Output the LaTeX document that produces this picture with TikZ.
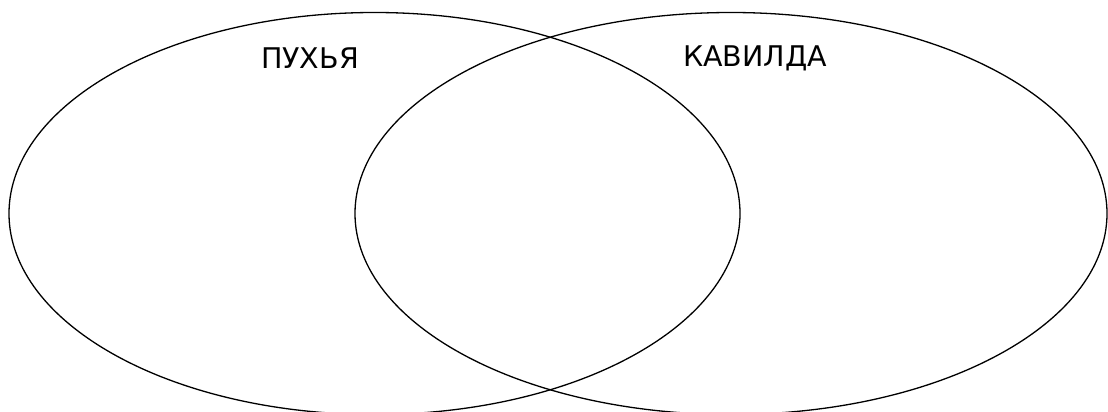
\documentclass[tikz,border=0pt]{standalone}
\usepackage{fontspec}
\setmainfont{DejaVu Sans}
\tikzset{
  setline/.style={draw, line width=1.3pt},
  setlabel/.style={font=\fontsize{28.5}{34}\selectfont, inner sep=0pt}
}
\begin{document}
\begin{tikzpicture}[x=1pt, y=-1pt]
  \useasboundingbox (0,0) rectangle (1108,412);
  \draw[setline] (374.5,213.5) ellipse [x radius=365.5, y radius=201];
  \draw[setline] (731,213.5) ellipse [x radius=376, y radius=201];
  \node[setlabel] (pukhya) at (310,58) {ПУХЬЯ};
  \node[setlabel] (kavilda) at (755,58) {КАВИЛДА};
\end{tikzpicture}
\end{document}
